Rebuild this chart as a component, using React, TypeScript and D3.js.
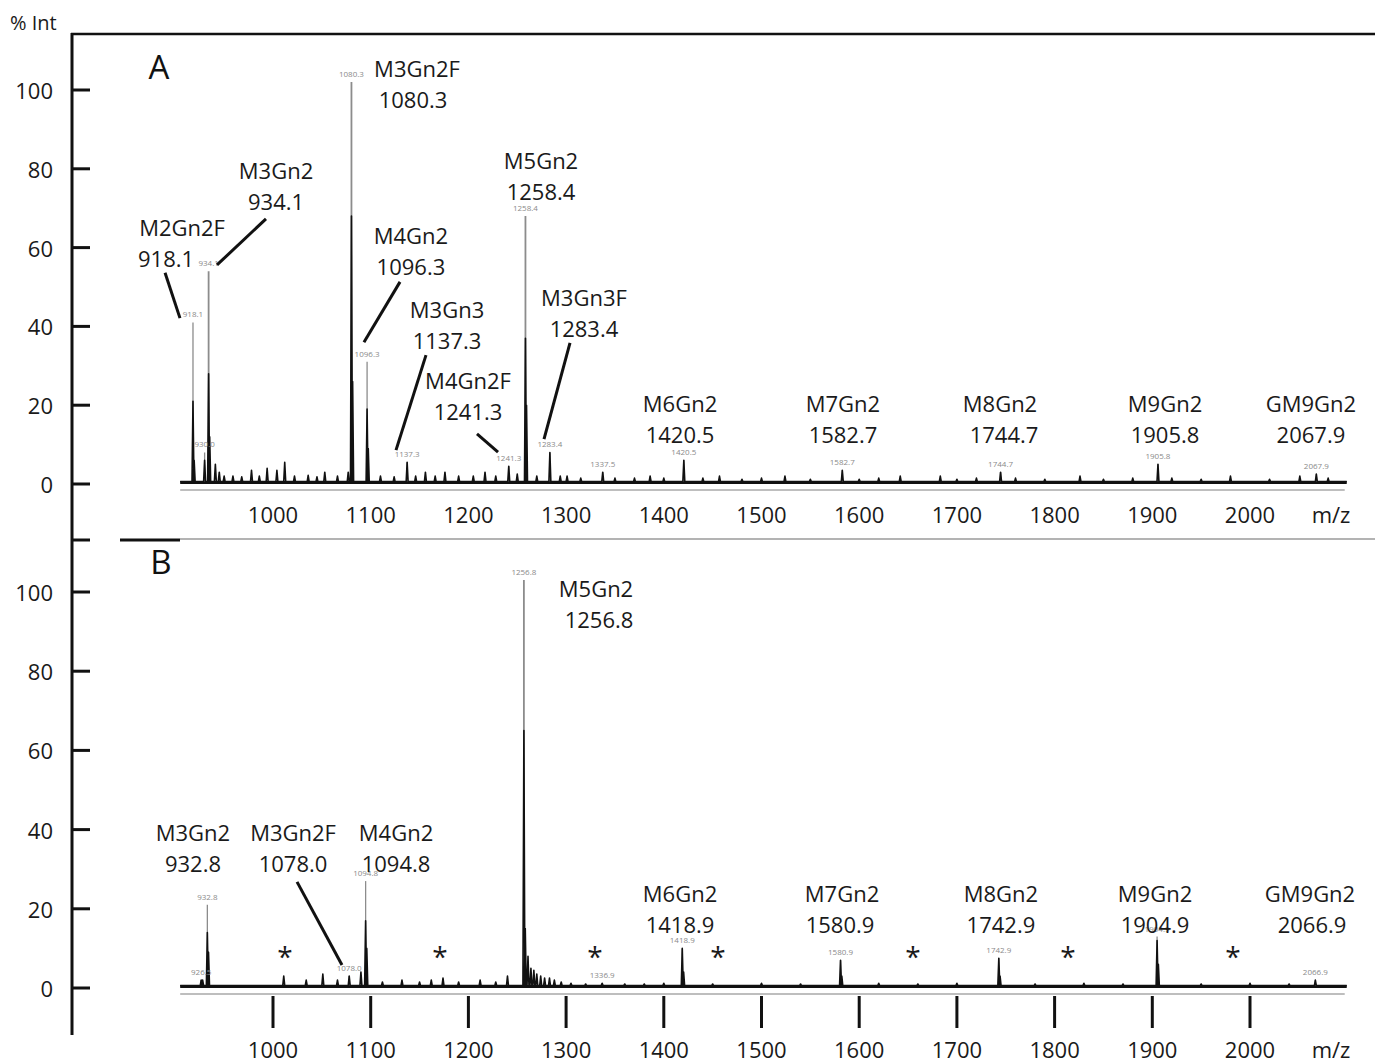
import React from "react";
import * as d3 from "d3";

const W = 1375;
const H = 1064;
const FONT = "'Open Sans', 'Noto Sans', sans-serif";

// ---------- shared axis values ----------
const yTicks = [0, 20, 40, 60, 80, 100];
const xTicks = [1000, 1100, 1200, 1300, 1400, 1500, 1600, 1700, 1800, 1900, 2000];
const mzRange = [905, 2099];

// ---------- panel A: labelled peaks ----------
const peakMzA = [918.1, 930.0, 934.1, 1080.3, 1096.3, 1137.3, 1241.3, 1258.4, 1283.4, 1337.5, 1420.5, 1582.7, 1744.7, 1905.8, 2067.9];
const peakIntA = [41, 8, 54, 102, 31, 5.5, 4.5, 68, 8, 3, 6, 3.5, 3, 5, 2.5];
const peakCoreA = [21, 6, 28, 68, 19, 5.5, 4.5, 37, 8, 3, 6, 3.5, 3, 5, 2.5];

// minor peaks / noise spikes, panel A
const minorMzA = [919.3, 935.2, 941, 945, 950, 959, 968, 978, 986, 994, 1004, 1012, 1022, 1036, 1045, 1053, 1066, 1077, 1081.5, 1097.5, 1110, 1124, 1146, 1156, 1166, 1176, 1190, 1205, 1217, 1228, 1250, 1259.5, 1270, 1294, 1301, 1315, 1350, 1370, 1386, 1400, 1440, 1457, 1480, 1500, 1524, 1550, 1600, 1620, 1642, 1683, 1700, 1720, 1760, 1790, 1826, 1850, 1880, 1920, 1950, 1980, 2020, 2051, 2080];
const minorIntA = [6, 12, 5, 3, 2, 2, 1.8, 3.5, 2, 4, 3.5, 5.5, 2, 2.2, 1.8, 3, 2, 3, 26, 9, 2, 1.8, 2, 3, 2, 3, 2, 2, 3, 2, 2.5, 20, 2, 2, 2, 1.5, 1.5, 1.5, 2, 1.5, 1.5, 2, 1.2, 1.5, 2, 1.2, 1.2, 1.5, 2, 2, 1.2, 1.5, 1.5, 1.2, 2, 1.2, 1.5, 1.5, 1.2, 2, 1.2, 2, 1.5];

// glycan annotations, panel A
const glycanA = ["M2Gn2F", "M3Gn2", "M3Gn2F", "M4Gn2", "M3Gn3", "M4Gn2F", "M5Gn2", "M3Gn3F", "M6Gn2", "M7Gn2", "M8Gn2", "M9Gn2", "GM9Gn2"];
const glycanValA = ["918.1", "934.1", "1080.3", "1096.3", "1137.3", "1241.3", "1258.4", "1283.4", "1420.5", "1582.7", "1744.7", "1905.8", "2067.9"];
// label centre in data units [m/z, %Int]
const labelPosA = [[906.9, 65.2], [1003.1, 79.7], [1147.4, 105.6], [1141.2, 63.2], [1178.1, 44.4], [1199.6, 26.4], [1274.3, 82.2], [1318.3, 47.5], [1416.6, 20.6], [1583.4, 20.6], [1744.1, 20.6], [1913.0, 20.6], [2062.4, 20.6]];
// horizontal nudge of the value line against the name line, px
const valueDxA = [-16, 0, -4, 0, 0, 0, 0, 0, 0, 0, 4, 0, 0];
// leader lines in data units [m/z1, %1, m/z2, %2]
const leaderA = [[889.5, 53.6, 904.8, 42.1], [992.8, 67.3, 942.7, 55.6], [1130.0, 51.3, 1093.1, 36.0], [1156.6, 32.7, 1125.9, 8.6], [1208.8, 12.7, 1230.3, 8.1], [1304.0, 35.8, 1277.4, 11.4]];

// ---------- panel B: labelled peaks ----------
const peakMzB = [926.5, 932.8, 1078.0, 1094.8, 1256.8, 1336.9, 1418.9, 1580.9, 1742.9, 1904.9, 2066.9];
const peakIntB = [2, 21, 3, 27, 103, 1.2, 10, 7, 7.5, 13, 2];
const peakCoreB = [2, 14, 3, 17, 65, 1.2, 10, 7, 7.5, 12, 2];

const minorMzB = [928, 934, 1011, 1034, 1051, 1066, 1090, 1096, 1112, 1132, 1150, 1162, 1174, 1190, 1212, 1228, 1240, 1258.2, 1261, 1264, 1267, 1270, 1274, 1278, 1283, 1288, 1295, 1305, 1320, 1360, 1380, 1400, 1420.3, 1450, 1500, 1540, 1582.2, 1620, 1660, 1700, 1744.2, 1780, 1830, 1870, 1906.2, 1950, 2000, 2040];
const minorIntB = [2, 9, 3, 2, 3.5, 2, 4, 10, 1.5, 2, 1.5, 2, 2.5, 1.5, 2, 1.5, 3, 15, 8, 5, 4.5, 3.5, 3, 2.5, 2.5, 2, 1.5, 1.2, 1, 1, 1, 1.2, 4, 1, 1.2, 1, 3, 1.2, 1, 1.2, 3, 1, 1.2, 1, 6, 1, 1.2, 1];

const glycanB = ["M3Gn2", "M3Gn2F", "M4Gn2", "M5Gn2", "M6Gn2", "M7Gn2", "M8Gn2", "M9Gn2", "GM9Gn2"];
const glycanValB = ["932.8", "1078.0", "1094.8", "1256.8", "1418.9", "1580.9", "1742.9", "1904.9", "2066.9"];
const labelPosB = [[918.1, 39.4], [1020.5, 39.4], [1125.9, 39.4], [1330.6, 101], [1416.6, 24], [1582.4, 24], [1745.1, 24], [1902.8, 24], [2061.4, 24]];
const valueDxB = [0, 0, 0, 3, 0, -2, 0, 0, 2];
const leaderB = [[1024.6, 26.8, 1070.6, 5.8]];
const asteriskMzB = [1012.3, 1170.9, 1329.6, 1455.5, 1655.1, 1813.7, 1982.6];

// ---------- scales ----------
const x = d3.scaleLinear().domain([1000, 2000]).range([273, 1250]);
const yA = d3.scaleLinear().domain([0, 100]).range([484, 90]);
const yB = d3.scaleLinear().domain([0, 100]).range([988, 592]);

const BASE = 0.6;

function spectrumPoints(mz: number[], ints: number[]) {
  const pts: [number, number][] = [[mzRange[0], BASE]];
  const order = d3.range(mz.length).sort((a, b) => mz[a] - mz[b]);
  order.forEach((i) => {
    pts.push([mz[i] - 1.0, BASE], [mz[i], ints[i]], [mz[i] + 1.0, BASE]);
  });
  pts.push([mzRange[1], BASE]);
  return pts;
}

function Panel(props: any) {
  const { y, peakMz, peakInt, peakCore, minorMz, minorInt, glycan, glycanVal, valueDx, labelPos, leaders, xTickY, tickMarks } = props;
  const line = d3
    .line<[number, number]>()
    .x((d) => x(d[0]))
    .y((d) => y(d[1]));
  const d = line(spectrumPoints(peakMz.concat(minorMz), peakCore.concat(minorInt)));
  const y0 = y(0);

  return (
    <g>
      {/* y ticks */}
      {yTicks.map((t) => (
        <g key={"yt" + t}>
          <line x1={72} x2={90} y1={y(t)} y2={y(t)} stroke="#111" strokeWidth={3} />
          <text x={53} y={y(t)} textAnchor="end" dominantBaseline="central" fontSize={22} fill="#1a1a1a">
            {t}
          </text>
        </g>
      ))}

      {/* faint axis under the trace */}
      <line x1={x(mzRange[0])} x2={x(mzRange[1]) - 2} y1={y0 + 6} y2={y0 + 6} stroke="#a8a8a8" strokeWidth={1.5} />

      {/* x ticks */}
      {tickMarks &&
        xTicks.map((t) => (
          <line key={"xm" + t} x1={x(t)} x2={x(t)} y1={y0 + 8} y2={y0 + 40} stroke="#111" strokeWidth={3} />
        ))}
      {xTicks.map((t) => (
        <text key={"xt" + t} x={x(t)} y={xTickY} textAnchor="middle" dominantBaseline="central" fontSize={22} fill="#1a1a1a">
          {t}
        </text>
      ))}
      <text x={1331} y={xTickY} textAnchor="middle" dominantBaseline="central" fontSize={22} fill="#1a1a1a">
        m/z
      </text>

      {/* baseline noise band */}
      <line x1={x(mzRange[0])} x2={x(mzRange[1])} y1={y(0.4)} y2={y(0.4)} stroke="#111" strokeWidth={3} />

      {/* full peak heights (light upper part) */}
      {peakMz.map((m: number, i: number) => (
        <line key={"pk" + i} x1={x(m)} x2={x(m)} y1={y(BASE)} y2={y(peakInt[i])} stroke="#8c8c8c" strokeWidth={peakInt[i] > 50 ? 1.8 : 1.3} />
      ))}

      {/* spectrum trace */}
      <path d={d || ""} fill="none" stroke="#111" strokeWidth={1.6} strokeLinejoin="round" />

      {/* tiny peak tags */}
      {peakMz.map((m: number, i: number) => (
        <text key={"tag" + i} x={x(m)} y={y(peakInt[i]) - 5} textAnchor="middle" fontSize={8} fill="#8a8a8a">
          {m.toFixed(1)}
        </text>
      ))}

      {/* leader lines */}
      {leaders.map((l: number[], i: number) => (
        <line key={"ld" + i} x1={x(l[0])} y1={y(l[1])} x2={x(l[2])} y2={y(l[3])} stroke="#111" strokeWidth={3} />
      ))}

      {/* glycan labels */}
      {glycan.map((g: string, i: number) => (
        <g key={"gl" + i}>
          <text x={x(labelPos[i][0])} y={y(labelPos[i][1])} textAnchor="middle" dominantBaseline="central" fontSize={22} fill="#1a1a1a">
            {g}
          </text>
          <text x={x(labelPos[i][0]) + valueDx[i]} y={y(labelPos[i][1]) + 31} textAnchor="middle" dominantBaseline="central" fontSize={22} fill="#1a1a1a">
            {glycanVal[i]}
          </text>
        </g>
      ))}
    </g>
  );
}

export default function App() {
  return (
    <svg width={W} height={H} style={{ position: "absolute", left: 0, top: 0, background: "#fff" }} fontFamily={FONT}>
      <rect width={W} height={H} fill="#fff" />
      <text x={10} y={22} dominantBaseline="central" fontSize={20} fill="#1a1a1a">
        % Int
      </text>

      {/* frame */}
      <line x1={72} x2={72} y1={33} y2={1035} stroke="#111" strokeWidth={3} />
      <line x1={71} x2={W} y1={34} y2={34} stroke="#111" strokeWidth={2.5} />
      <line x1={72} x2={90} y1={540} y2={540} stroke="#111" strokeWidth={3} />
      <line x1={120} x2={180} y1={540} y2={540} stroke="#111" strokeWidth={3} />
      <line x1={180} x2={W} y1={539} y2={539} stroke="#9a9a9a" strokeWidth={1.5} />

      <text x={159} y={66} textAnchor="middle" dominantBaseline="central" fontSize={33} fill="#111">
        A
      </text>
      <text x={161} y={561} textAnchor="middle" dominantBaseline="central" fontSize={33} fill="#111">
        B
      </text>

      <Panel
        y={yA}
        peakMz={peakMzA}
        peakInt={peakIntA}
        peakCore={peakCoreA}
        minorMz={minorMzA}
        minorInt={minorIntA}
        glycan={glycanA}
        glycanVal={glycanValA}
        valueDx={valueDxA}
        labelPos={labelPosA}
        leaders={leaderA}
        xTickY={514}
        tickMarks={false}
      />
      <Panel
        y={yB}
        peakMz={peakMzB}
        peakInt={peakIntB}
        peakCore={peakCoreB}
        minorMz={minorMzB}
        minorInt={minorIntB}
        glycan={glycanB}
        glycanVal={glycanValB}
        valueDx={valueDxB}
        labelPos={labelPosB}
        leaders={leaderB}
        xTickY={1049}
        tickMarks={true}
      />

      {/* asterisks, panel B */}
      {asteriskMzB.map((m, i) => (
        <text key={"ast" + i} x={x(m)} y={yB(9.1) + 15} textAnchor="middle" fontSize={28} fill="#1a1a1a">
          *
        </text>
      ))}
    </svg>
  );
}
